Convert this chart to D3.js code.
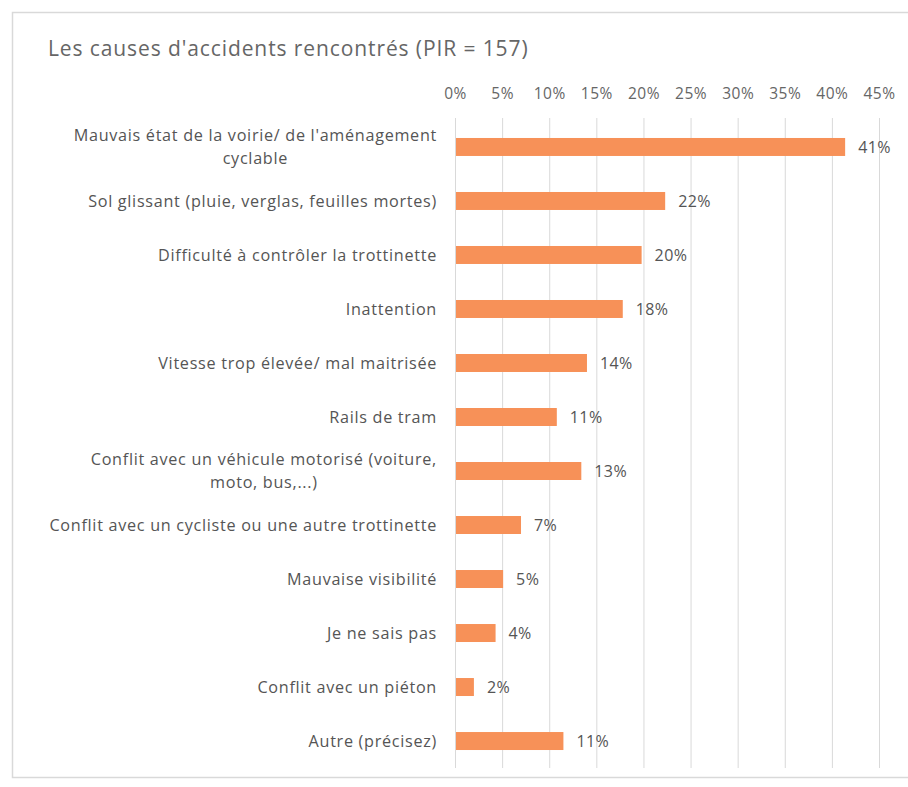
<!DOCTYPE html>
<html>
<head>
<meta charset="utf-8">
<script src="https://cdn.jsdelivr.net/npm/d3@7"></script>
<style>
  html, body { margin: 0; padding: 0; background: #fff; }
  svg text { font-family: "Open Sans", Lato, sans-serif; }
</style>
</head>
<body>
<svg id="chart" width="908" height="787"></svg>
<script>
const title = "Les causes d'accidents rencontrés (PIR = 157)";
const categories = [
  ["Mauvais état de la voirie/ de l'aménagement", "cyclable"],
  ["Sol glissant (pluie, verglas, feuilles mortes)"],
  ["Difficulté à contrôler la trottinette"],
  ["Inattention"],
  ["Vitesse trop élevée/ mal maitrisée"],
  ["Rails de tram"],
  ["Conflit avec un véhicule motorisé (voiture,", "moto, bus,...)"],
  ["Conflit avec un cycliste ou une autre trottinette"],
  ["Mauvaise visibilité"],
  ["Je ne sais pas"],
  ["Conflit avec un piéton"],
  ["Autre (précisez)"]
];
const values = [41.3, 22.2, 19.7, 17.7, 13.9, 10.7, 13.3, 6.9, 5.0, 4.2, 1.9, 11.4];
const tickValues = [0, 5, 10, 15, 20, 25, 30, 35, 40, 45];

const svg = d3.select("#chart");

// frame
svg.append("rect")
  .attr("x", 12.5).attr("y", 12.5)
  .attr("width", 920).attr("height", 765)
  .attr("fill", "#fff").attr("stroke", "#d9d9d9").attr("stroke-width", 1.5);

svg.append("text")
  .attr("x", 48).attr("y", 56)
  .attr("font-size", 21)
  .attr("letter-spacing", 0.9)
  .attr("fill", "#666666")
  .text(title);

const x = d3.scaleLinear().domain([0, 45]).range([455, 879]);
const idx = d3.range(categories.length);
const y = d3.scaleBand().domain(idx).range([120, 768]).paddingInner(0.667).paddingOuter(0.333);

// gridlines
svg.append("g").selectAll("line").data(tickValues).join("line")
  .attr("x1", d => x(d) + 0.5).attr("x2", d => x(d) + 0.5)
  .attr("y1", 118).attr("y2", 768)
  .attr("stroke", "#d9d9d9").attr("stroke-width", 1);

// top axis labels
const axis = d3.axisTop(x).tickValues(tickValues).tickFormat(d => d + "%").tickSize(0).tickPadding(0);
const ag = svg.append("g").attr("transform", "translate(0,99)").call(axis);
ag.select(".domain").remove();
ag.selectAll("text").attr("font-size", 15.5).attr("letter-spacing", 0.5).attr("fill", "#666666")
  .attr("font-family", "'Open Sans', Lato, sans-serif");

// bars
svg.append("g").selectAll("rect").data(values).join("rect")
  .attr("x", x(0) + 1)
  .attr("y", (d, i) => y(i))
  .attr("width", d => x(d) - x(0))
  .attr("height", y.bandwidth())
  .attr("fill", "#F79158");

// value labels
svg.append("g").selectAll("text").data(values).join("text")
  .attr("x", d => x(d) + 14)
  .attr("y", (d, i) => y(i) + y.bandwidth() / 2)
  .attr("dy", "0.36em")
  .attr("font-size", 16)
  .attr("letter-spacing", 0.4)
  .attr("fill", "#555555")
  .text(d => Math.round(d) + "%");

// category labels
const right = 437;
const lg = svg.append("g");
categories.forEach((lines, i) => {
  const cy = y(i) + y.bandwidth() / 2;
  const n = lines.length;
  const t0 = lg.append("text")
    .attr("x", right)
    .attr("y", cy - (n - 1) * 11.5)
    .attr("dy", "0.36em")
    .attr("text-anchor", "end")
    .attr("font-size", 16.2)
    .attr("letter-spacing", 0.7)
    .attr("fill", "#555555")
    .text(lines[0]);
  if (n > 1) {
    const w = t0.node().getComputedTextLength();
    for (let k = 1; k < n; k++) {
      lg.append("text")
        .attr("x", right - w / 2)
        .attr("y", cy - (n - 1) * 11.5 + k * 23)
        .attr("dy", "0.36em")
        .attr("text-anchor", "middle")
        .attr("font-size", 16.2)
        .attr("letter-spacing", 0.7)
        .attr("fill", "#555555")
        .text(lines[k]);
    }
  }
});
</script>
</body>
</html>
